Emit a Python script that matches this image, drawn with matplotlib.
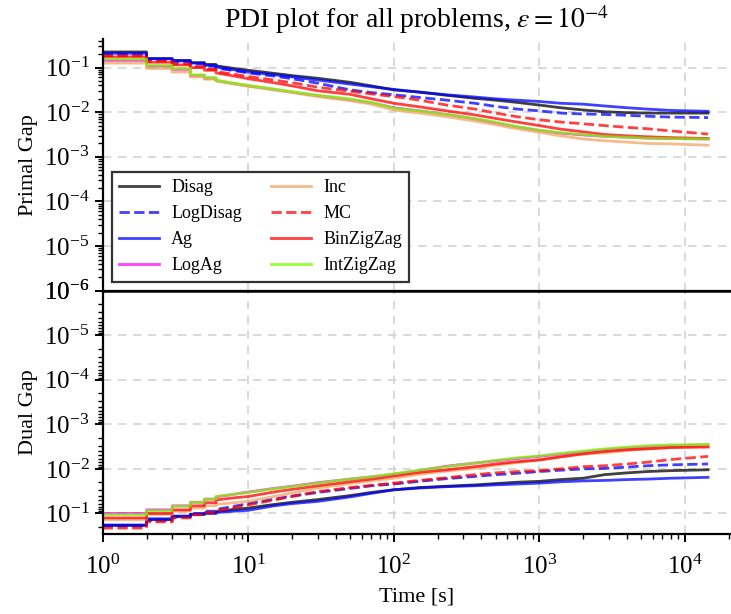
import matplotlib
matplotlib.use("Agg")
import matplotlib.pyplot as plt
import matplotlib.ticker as mticker
import numpy as np

plt.rcParams['font.family'] = ['Liberation Serif', 'DejaVu Serif']
plt.rcParams['mathtext.fontset'] = 'stix'

# time points (seconds)
times = [1, 2, 3, 4, 5, 6, 8, 10, 15, 20, 30, 50, 70, 100, 150, 230, 360, 500,
         700, 1000, 1400, 2000, 2800, 4000, 5500, 8000, 14400]
# before this time the curves are drawn as steps
step_until = 6

methods = ['Disag', 'LogDisag', 'Ag', 'LogAg', 'Inc', 'MC', 'BinZigZag', 'IntZigZag']

# primal gap, log10 exponents
primal_disag = [-0.65, -0.8, -0.84, -0.89, -0.93, -0.96, -1.02, -1.06, -1.13, -1.18, -1.24, -1.33, -1.41,
                -1.5, -1.55, -1.62, -1.69, -1.73, -1.78, -1.84, -1.9, -1.95, -1.99, -2.01, -2.02, -2.02, -2.02]
primal_logdisag = [-0.7, -0.82, -0.87, -0.92, -0.97, -1.01, -1.07, -1.12, -1.19, -1.25, -1.35, -1.5, -1.56,
                   -1.61, -1.67, -1.73, -1.8, -1.87, -1.93, -1.97, -2.02, -2.04, -2.05, -2.07, -2.09, -2.11, -2.12]
primal_ag = [-0.68, -0.8, -0.85, -0.9, -0.95, -0.99, -1.05, -1.1, -1.16, -1.21, -1.28, -1.37, -1.43,
             -1.49, -1.55, -1.61, -1.66, -1.7, -1.73, -1.76, -1.8, -1.82, -1.86, -1.9, -1.93, -1.96, -1.98]
primal_logag = [-0.84, -0.97, -1.04, -1.18, -1.24, -1.29, -1.36, -1.41, -1.49, -1.55, -1.63, -1.72, -1.79,
                -1.9, -1.97, -2.05, -2.15, -2.24, -2.33, -2.41, -2.47, -2.51, -2.54, -2.56, -2.58, -2.59, -2.6]
primal_inc = [-0.9, -1.02, -1.1, -1.21, -1.26, -1.3, -1.37, -1.42, -1.5, -1.56, -1.65, -1.74, -1.82,
              -1.95, -2.02, -2.1, -2.2, -2.28, -2.37, -2.45, -2.53, -2.6, -2.64, -2.67, -2.7, -2.71, -2.74]
primal_mc = [-0.74, -0.86, -0.92, -0.98, -1.04, -1.09, -1.15, -1.2, -1.28, -1.34, -1.44, -1.53, -1.59,
             -1.65, -1.73, -1.84, -1.93, -2.02, -2.1, -2.17, -2.22, -2.26, -2.3, -2.34, -2.37, -2.42, -2.49]
primal_binzz = [-0.76, -0.88, -0.94, -1.0, -1.06, -1.12, -1.19, -1.25, -1.34, -1.41, -1.52, -1.6, -1.7,
                -1.8, -1.88, -1.97, -2.06, -2.14, -2.22, -2.3, -2.38, -2.44, -2.5, -2.53, -2.55, -2.57, -2.59]
primal_intzz = [-0.81, -0.95, -1.02, -1.16, -1.22, -1.28, -1.35, -1.4, -1.48, -1.54, -1.62, -1.7, -1.78,
                -1.91, -1.97, -2.05, -2.14, -2.22, -2.32, -2.4, -2.46, -2.5, -2.54, -2.56, -2.58, -2.59, -2.6]

# dual gap, log10 exponents
dual_disag = [-0.73, -0.86, -0.93, -0.98, -1.01, -1.04, -1.09, -1.12, -1.2, -1.25, -1.31, -1.4, -1.47,
              -1.53, -1.58, -1.61, -1.64, -1.67, -1.7, -1.72, -1.76, -1.79, -1.87, -1.91, -1.94, -1.96, -1.98]
dual_logdisag = [-0.72, -0.84, -0.92, -1.0, -1.05, -1.09, -1.16, -1.22, -1.32, -1.39, -1.47, -1.56, -1.62,
                 -1.66, -1.72, -1.78, -1.83, -1.87, -1.9, -1.94, -1.97, -2.0, -2.01, -2.04, -2.07, -2.09, -2.11]
dual_ag = [-0.74, -0.88, -0.94, -0.98, -1.0, -1.02, -1.05, -1.07, -1.17, -1.22, -1.27, -1.37, -1.45,
           -1.53, -1.57, -1.6, -1.62, -1.64, -1.66, -1.68, -1.71, -1.73, -1.74, -1.76, -1.77, -1.79, -1.81]
dual_logag = [-1.0, -1.08, -1.17, -1.25, -1.32, -1.37, -1.43, -1.48, -1.56, -1.61, -1.69, -1.77, -1.82,
              -1.88, -1.96, -2.06, -2.13, -2.18, -2.23, -2.28, -2.33, -2.38, -2.43, -2.47, -2.5, -2.52, -2.54]
dual_inc = [-0.86, -0.98, -1.05, -1.12, -1.17, -1.2, -1.24, -1.27, -1.38, -1.46, -1.57, -1.67, -1.73,
            -1.79, -1.88, -1.95, -2.01, -2.08, -2.14, -2.2, -2.27, -2.33, -2.36, -2.41, -2.45, -2.48, -2.51]
dual_mc = [-0.67, -0.81, -0.9, -0.97, -1.02, -1.06, -1.13, -1.19, -1.3, -1.38, -1.49, -1.58, -1.63,
           -1.68, -1.74, -1.8, -1.87, -1.91, -1.94, -1.96, -2.0, -2.05, -2.07, -2.11, -2.15, -2.21, -2.28]
dual_binzz = [-0.9, -1.0, -1.08, -1.17, -1.24, -1.3, -1.35, -1.38, -1.48, -1.54, -1.62, -1.71, -1.77,
              -1.84, -1.92, -1.98, -2.05, -2.11, -2.16, -2.2, -2.27, -2.34, -2.39, -2.43, -2.45, -2.48, -2.49]
dual_intzz = [-0.97, -1.06, -1.16, -1.25, -1.32, -1.38, -1.43, -1.47, -1.55, -1.6, -1.68, -1.77, -1.82,
              -1.89, -1.97, -2.05, -2.13, -2.19, -2.25, -2.29, -2.35, -2.4, -2.45, -2.49, -2.52, -2.54, -2.55]

primal = [primal_disag, primal_logdisag, primal_ag, primal_logag,
          primal_inc, primal_mc, primal_binzz, primal_intzz]
dual = [dual_disag, dual_logdisag, dual_ag, dual_logag,
        dual_inc, dual_mc, dual_binzz, dual_intzz]

colors = ['black', 'blue', 'blue', 'magenta', 'sandybrown', 'red', 'red', 'lawngreen']
styles = ['-', '--', '-', '-', '-', '--', '-', '-']


def step_path(ts, vals):
    # steps at the start, plain line afterwards
    xs, ys = [ts[0]], [vals[0]]
    for i in range(1, len(ts)):
        if ts[i] <= step_until:
            xs.append(ts[i])
            ys.append(vals[i - 1])
        xs.append(ts[i])
        ys.append(vals[i])
    return np.array(xs), 10.0 ** np.array(ys)


fig = plt.figure(figsize=(7.31, 6.14), dpi=100)
ax1 = fig.add_axes([0.1405, 0.5265, 0.8595, 0.4095])
ax2 = fig.add_axes([0.1405, 0.1303, 0.8595, 0.3962], sharex=ax1)

for name, p, d, c, ls in zip(methods, primal, dual, colors, styles):
    x, y = step_path(times, p)
    ax1.plot(x, y, color=c, ls=ls, lw=2, alpha=0.75, label=name)
    x, y = step_path(times, d)
    ax2.plot(x, y, color=c, ls=ls, lw=2, alpha=0.75)

for ax in (ax1, ax2):
    ax.set_xscale('log')
    ax.set_yscale('log')
    ax.yaxis.set_major_locator(mticker.LogLocator(base=10, numticks=20))
    ax.yaxis.set_minor_locator(mticker.LogLocator(base=10, subs=np.arange(2, 10), numticks=20))
    ax.yaxis.set_minor_formatter(mticker.NullFormatter())
    ax.xaxis.set_major_locator(mticker.LogLocator(base=10, numticks=20))
    ax.xaxis.set_minor_locator(mticker.LogLocator(base=10, subs=np.arange(2, 10), numticks=20))
    ax.xaxis.set_minor_formatter(mticker.NullFormatter())
    ax.grid(True, which='major', ls=(0, (5, 4)), color='lightgray', lw=1.2)
    ax.spines['right'].set_visible(False)
    ax.spines['left'].set_linewidth(1.6)
    ax.spines['bottom'].set_linewidth(1.6)
    ax.tick_params(which='major', length=6, width=1.4, labelsize=18, direction='out')
    ax.tick_params(which='minor', length=3.5, width=1.0, direction='out')

ax1.spines['top'].set_visible(False)
ax2.spines['top'].set_linewidth(1.8)

ax1.set_xlim(1, 2.07e4)
ax1.set_ylim(1e-6, 0.43)
ax2.set_ylim(0.29, 1e-6)
ax1.tick_params(axis='x', which='both', bottom=False, labelbottom=False)
ax2.tick_params(axis='x', which='major', pad=9)

ax1.set_ylabel('Primal Gap', fontsize=16)
ax2.set_ylabel('Dual Gap', fontsize=16)
ax2.set_xlabel('Time [s]', fontsize=16, labelpad=6)
ax1.set_title(r'PDI plot for all problems, $\varepsilon = 10^{-4}$', fontsize=20, pad=8)

leg = ax1.legend(loc='lower left', ncol=2, fontsize=13, fancybox=False,
                 framealpha=1, edgecolor='#333333', handlelength=2.2,
                 handletextpad=0.7, columnspacing=1.6)
leg.get_frame().set_linewidth(1.6)

fig.savefig('out.png', dpi=100)
